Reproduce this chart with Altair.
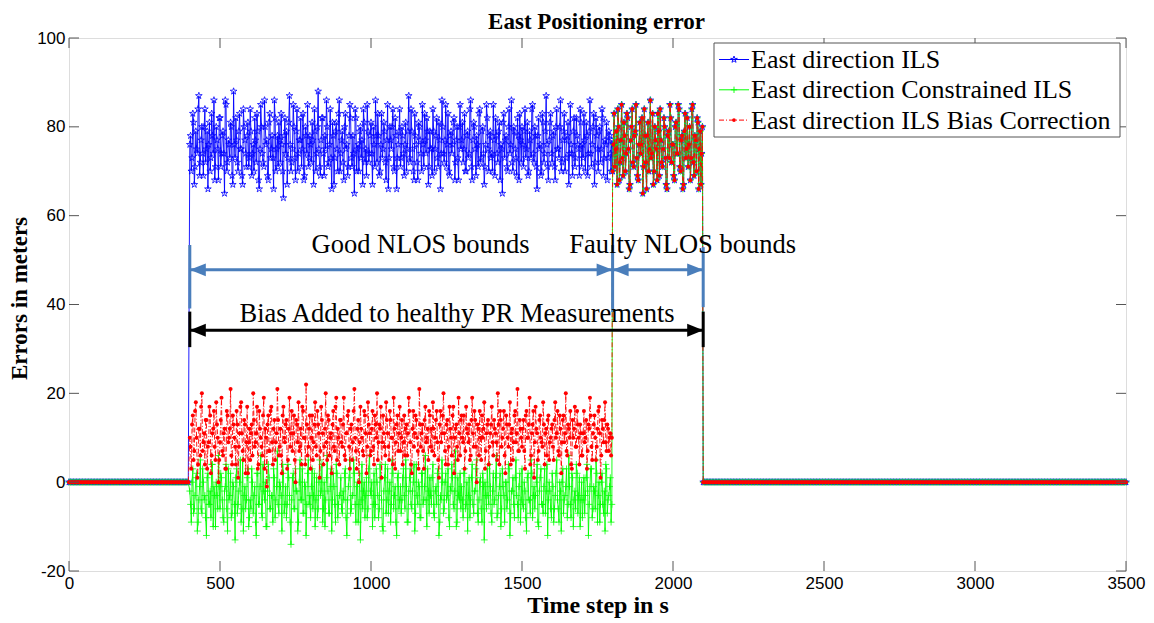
import altair as alt
import pandas as pd

# ---------------- data ----------------
T_BIAS_START = 400       # bias added from here
T_FAULT_START = 1800     # faulty NLOS bounds from here
T_BIAS_END = 2100        # bias removed here
T_END = 3500
STEP_FLAT = 5            # sampling used for the flat (healthy) parts
STEP_NOISY = 2.5         # sampling used for the biased interval

# East direction ILS, even samples t = 400, 405, ... 1795
ils_good_a = [
    76, 70, 83, 67, 79, 74, 87, 72, 80, 69, 84, 75, 66, 81, 73, 78, 86, 71, 77, 68,
    82, 74, 79, 65, 85, 72, 76, 81, 69, 88, 73, 77, 70, 83, 75, 67, 80, 74, 78, 71,
    84, 69, 76, 82, 72, 79, 66, 85, 74, 71, 80, 77, 68, 83, 75, 73, 86, 70, 78, 81,
    72, 76, 64, 82, 79, 73, 87, 70, 75, 80, 68, 84, 74, 77, 71, 83, 69, 78, 85, 73,
    76, 81, 67, 79, 74, 88, 71, 77, 82, 69, 75, 80, 72, 84, 66, 78, 73, 81, 70, 86,
    74, 79, 68, 83, 76, 71, 85, 73, 78, 65, 82, 75, 70, 80, 77, 84, 72, 69, 79, 74,
    81, 67, 76, 86, 72, 78, 70, 83, 75, 79, 68, 85, 73, 77, 80, 71, 82, 66, 76, 84,
    73, 78, 69, 81, 75, 87, 72, 79, 70, 83, 76, 68, 80, 74, 85, 71, 77, 82, 67, 79,
    75, 84, 70, 78, 73, 81, 66, 86, 74, 77, 71, 83, 69, 79, 76, 82, 72, 80, 68, 85,
    77, 72, 83, 70, 79, 74, 86, 68, 81, 75, 78, 71, 84, 73, 80, 67, 76, 82, 70, 79,
    74, 85, 69, 78, 72, 81, 76, 65, 83, 77, 71, 80, 74, 86, 70, 79, 73, 82, 68, 77,
    80, 71, 84, 75, 69, 79, 73, 85, 72, 78, 66, 82, 76, 70, 81, 74, 87, 71, 77, 83,
    72, 79, 68, 84, 75, 80, 70, 77, 83, 73, 78, 67, 85, 74, 79, 71, 82, 76, 69, 81,
    76, 83, 70, 78, 74, 86, 71, 80, 67, 82, 75, 79, 72, 84, 69, 77, 81, 73, 78, 70,
]
# East direction ILS, odd samples t = 402.5, 407.5, ... 1797.5
ils_good_b = [
    78, 73, 81, 71, 75, 84, 69, 77, 74, 80, 72, 79, 76, 70, 83, 74, 68, 80, 75, 82,
    71, 78, 74, 86, 70, 77, 73, 80, 67, 76, 82, 72, 79, 75, 69, 84, 77, 71, 81, 73,
    79, 74, 70, 77, 83, 68, 75, 80, 72, 86, 76, 69, 81, 73, 78, 66, 82, 75, 71, 77,
    83, 70, 78, 74, 67, 81, 76, 72, 85, 73, 79, 70, 77, 82, 75, 68, 80, 74, 71, 78,
    72, 77, 84, 70, 80, 75, 69, 82, 74, 78, 86, 71, 76, 73, 81, 67, 79, 75, 83, 70,
    77, 72, 80, 75, 69, 78, 82, 71, 74, 84, 70, 76, 79, 73, 67, 81, 75, 85, 72, 78,
    74, 80, 71, 78, 83, 69, 76, 73, 81, 72, 77, 66, 80, 75, 84, 70, 78, 73, 79, 71,
    80, 74, 76, 70, 79, 73, 84, 75, 68, 78, 72, 81, 77, 70, 76, 83, 74, 79, 71, 75,
    69, 79, 75, 82, 71, 77, 74, 80, 72, 85, 76, 70, 78, 74, 81, 68, 77, 73, 80, 75,
    81, 75, 70, 78, 73, 84, 71, 77, 80, 69, 76, 83, 72, 79, 74, 71, 85, 75, 78, 73,
    70, 77, 82, 74, 79, 68, 75, 81, 73, 78, 70, 84, 76, 72, 80, 75, 69, 78, 83, 72,
    76, 79, 73, 81, 70, 77, 84, 74, 80, 71, 78, 75, 69, 83, 72, 79, 76, 68, 81, 74,
    78, 71, 80, 75, 73, 86, 72, 79, 70, 77, 81, 74, 76, 69, 82, 73, 78, 75, 84, 71,
    73, 77, 81, 69, 79, 74, 76, 83, 72, 78, 70, 80, 75, 82, 73, 76, 68, 79, 74, 77,
]

# East direction Constrained ILS, even samples
cils_good_a = [
    -2, -9, 3, -6, 1, -11, -4, 5, -7, 0, -3, -12, 2, -5, -8, 4, -1, -10, -3, 6,
    -6, 1, -8, -2, 4, -11, -4, 2, -7, -1, -13, 3, -5, 0, -9, 5, -3, -6, 1, -10,
    -4, 3, -7, -1, -12, 2, -5, 6, -8, -2, 0, -10, 4, -6, -3, -9, 1, -4, 7, -7,
    -1, -11, 2, -5, -8, 4, -3, -14, 1, -6, 3, -2, -9, 5, -4, -7, 0, -12, 2, -5,
    -8, 3, -3, -10, 1, -6, 5, -2, -9, 0, -4, 6, -7, -1, -11, 2, -5, 4, -8, -3,
    1, -7, -4, 3, -12, -1, 5, -6, -3, 2, -9, 0, -5, -13, 4, -2, -8, 1, -6, 6,
    -3, -10, 2, -5, 0, -8, 4, -4, -11, 1, -7, 3, -2, -9, 5, -6, -1, -12, 2, -4,
    -7, 1, -3, 5, -9, -2, 3, -6, 0, -11, 4, -5, -1, -8, 2, -4, 6, -10, -2, 1,
    -5, 4, -8, -1, 2, -12, -3, 5, -7, 0, -4, 3, -10, -2, 1, -6, 7, -9, -3, 2,
    -1, -8, 3, -5, -11, 1, -4, 4, -7, -2, 5, -9, 0, -6, 2, -13, -3, 3, -5, -1,
    -9, 2, -4, 6, -7, -1, -10, 3, -3, 0, -6, 4, -12, -2, 1, -8, 5, -5, -1, -9,
    3, -6, -2, -11, 2, -4, 5, -8, -1, -3, 4, -10, 1, -5, -7, 3, -2, -12, 0, -6,
    2, -9, -3, 5, -6, 0, -11, 3, -4, -1, -8, 6, -5, 2, -10, -2, 4, -7, 1, -4,
    -8, 1, -3, 4, -12, -1, 3, -6, -2, 5, -9, 0, -5, 2, -7, -11, 3, -4, -1, -9,
]
# East direction Constrained ILS, odd samples
cils_good_b = [
    -5, 0, -7, -3, 2, -9, -1, -6, 3, -4, -8, 1, -5, -2, 4, -10, -3, 0, -6, -1,
    2, -4, -9, -1, -6, 3, -3, -8, 0, -5, 1, -7, -2, 5, -6, -11, -1, -4, 3, -8,
    -6, 0, -3, -9, 2, -5, -1, -7, 4, -4, -10, -2, 1, -6, -3, 3, -8, -1, -5, 0,
    -3, 4, -7, -1, -5, 1, -9, -4, 2, -6, -2, -11, 0, -4, 3, -7, -1, -5, 5, -3,
    -1, -6, 2, -4, -8, 0, -3, 4, -6, -10, 1, -2, -7, 3, -4, -1, -9, 2, -5, -3,
    -6, -2, 2, -8, -4, 1, -7, -3, 5, -5, -1, -9, 2, -4, -6, 0, -3, -8, 3, -2,
    0, -5, -8, 3, -3, -6, 1, -10, -2, 4, -4, -7, 0, -5, 2, -3, -9, 1, -6, -1,
    -4, 3, -6, -1, -9, 1, -5, -2, 4, -7, -3, 0, -8, 2, -5, -1, -4, 3, -7, -3,
    1, -7, -2, -5, 3, -9, -4, 0, -6, 2, -3, -8, -1, 4, -5, -2, -10, 1, -4, -6,
    -4, 2, -6, 0, -3, -8, 1, -5, -2, 3, -7, -4, 1, -9, -1, 0, -6, -3, 4, -7,
    -2, -5, 1, -8, -3, 2, -6, -1, -9, 0, -4, 3, -7, -2, -5, 1, -3, -8, 2, -4,
    -5, 0, -8, 1, -4, -7, 2, -3, -6, 0, -9, -2, 3, -5, -1, -7, 4, -4, -2, -8,
    -1, -6, 2, -4, -9, -2, 0, -7, -3, 3, -5, -1, -8, 1, -4, -6, 2, -3, -10, 0,
    -4, -7, 1, -2, -5, 3, -8, -1, -6, 2, -3, -9, 0, -5, -2, 4, -7, -3, 1, -5,
]

# East direction ILS Bias Correction, even samples
bc_good_a = [
    10, 3, 15, 7, 18, 1, 12, 6, 20, 9, 4, 14, 8, 17, 2, 11, 16, 5, 13, 0,
    9, 19, 6, 12, 3, 15, 10, 21, 4, 13, 8, 16, 1, 11, 18, 7, 14, 2, 17, 9,
    5, 13, 20, 8, 11, 3, 16, 10, 6, 19, 12, -1, 15, 7, 17, 4, 14, 9, 21, 6,
    12, 2, 17, 9, 14, 5, 19, 11, 7, 15, 0, 13, 18, 8, 4, 16, 10, 22, 6, 12,
    3, 15, 9, 18, 6, 13, 1, 17, 11, 8, 20, 5, 14, 10, 2, 16, 7, 19, 12, 4,
    14, 8, 19, 5, 11, 16, 3, 13, 9, 21, 7, 12, 0, 17, 10, 6, 15, 2, 18, 11,
    7, 16, 4, 13, 20, 9, 12, 1, 15, 8, 18, 11, 5, 14, 10, 19, 3, 13, 7, 17,
    10, 4, 15, 12, 6, 19, 9, 2, 16, 11, 14, 7, 21, 8, 13, 3, 17, 10, 5, 15,
    12, 18, 6, 14, 9, 1, 16, 11, 20, 7, 13, 4, 17, 10, 15, 2, 12, 8, 19, 6,
    15, 9, 3, 17, 11, 13, 6, 19, 8, 14, 0, 12, 16, 5, 10, 18, 7, 13, 4, 11,
    17, 6, 12, 9, 20, 4, 14, 10, 16, 2, 13, 8, 18, 11, 5, 15, 9, 21, 7, 12,
    8, 14, 3, 16, 10, 19, 6, 13, 1, 17, 11, 7, 15, 9, 18, 4, 12, 14, 5, 10,
    13, 5, 18, 11, 7, 15, 2, 14, 9, 20, 6, 12, 16, 3, 10, 17, 8, 13, 4, 11,
    6, 16, 10, 3, 13, 19, 8, 11, 15, 5, 12, 17, 1, 14, 9, 18, 7, 12, 10, 6,
]
# East direction ILS Bias Correction, odd samples
bc_good_b = [
    8, 13, 5, 16, 10, 4, 12, 17, 7, 11, 14, 3, 9, 15, 6, 12, 8, 18, 10, 5,
    14, 7, 11, 3, 16, 9, 12, 6, 15, 10, 4, 13, 8, 17, 11, 5, 13, 9, 2, 12,
    11, 6, 14, 9, 17, 4, 12, 8, 15, 3, 10, 13, 7, 16, 9, 12, 5, 11, 14, 8,
    6, 15, 10, 13, 3, 12, 8, 16, 11, 5, 14, 9, 7, 12, 17, 10, 4, 13, 8, 15,
    10, 5, 13, 8, 16, 11, 7, 14, 4, 12, 9, 15, 6, 11, 13, 8, 17, 5, 10, 14,
    9, 13, 6, 11, 15, 8, 12, 5, 16, 10, 3, 14, 9, 12, 7, 16, 11, 8, 13, 6,
    12, 8, 15, 10, 5, 13, 17, 9, 11, 6, 14, 8, 16, 10, 4, 12, 9, 15, 11, 7,
    14, 9, 6, 13, 11, 16, 4, 12, 8, 15, 10, 3, 13, 11, 7, 14, 9, 12, 16, 8,
    7, 12, 10, 16, 5, 13, 9, 15, 11, 4, 14, 8, 12, 6, 17, 10, 13, 5, 11, 14,
    10, 15, 7, 12, 9, 5, 14, 11, 16, 8, 13, 6, 10, 15, 12, 3, 11, 14, 8, 13,
    9, 14, 11, 5, 13, 16, 8, 12, 6, 15, 10, 13, 4, 12, 9, 16, 11, 7, 14, 10,
    12, 7, 15, 10, 13, 4, 11, 16, 9, 12, 5, 14, 10, 8, 13, 11, 6, 15, 9, 12,
    8, 14, 10, 16, 6, 12, 9, 15, 11, 7, 13, 10, 4, 14, 12, 8, 16, 10, 13, 6,
    11, 9, 14, 7, 12, 15, 5, 13, 10, 8, 16, 11, 6, 12, 14, 9, 13, 7, 11, 10,
]

# all three estimators coincide while the NLOS bounds are faulty (t = 1800 ... 2097.5)
fault_a = [
    70, 83, 75, 67, 80, 72, 85, 69, 78, 74, 82, 66, 77, 84, 71, 79, 73, 68, 81, 76,
    65, 84, 72, 78, 70, 86, 74, 67, 80, 75, 83, 69, 77, 71, 82, 73, 66, 79, 85, 72,
    76, 68, 81, 74, 84, 70, 78, 67, 83, 75, 71, 80, 73, 85, 69, 77, 82, 66, 79, 74,
]
fault_b = [
    76, 71, 79, 84, 68, 77, 73, 81, 70, 83, 75, 67, 80, 72, 78, 85, 69, 76, 74, 82,
    71, 78, 66, 81, 75, 73, 83, 70, 77, 68, 79, 84, 72, 75, 80, 67, 78, 73, 82, 76,
    69, 80, 74, 85, 71, 77, 66, 79, 73, 82, 76, 68, 84, 72, 78, 70, 81, 75, 67, 80,
]
healthy_level = 0   # error outside the biased interval

x_ticks = [0, 500, 1000, 1500, 2000, 2500, 3000, 3500]
y_ticks = [-20, 0, 20, 40, 60, 80, 100]

chart_title = "East Positioning error"
legend_labels = ["East direction ILS", "East direction Constrained ILS",
                 "East direction ILS Bias Correction"]

# annotation content (data coordinates)
ann_text_labels = ["Good NLOS bounds", "Faulty NLOS bounds",
                   "Bias Added to healthy PR Measurements"]
ann_text_t = [1164, 2032, 1285]
ann_text_v = [51.5, 51.5, 36.1]
bound_bar_t = [400, 1800, 2100]
bound_bar_top = [53.4, 53.4, 52.9]
bound_bar_bottom = [39.1, 38.3, 39.4]
bound_arrow_v = 47.8
bias_arrow_v = 34.2
bias_bar_top = 38.4
bias_bar_bottom = 30.4

# ---------------- tables ----------------
def frange(a, b, s):
    n = int(round((b - a) / s))
    return [a + k * s for k in range(n)]


def interleave(a, b):
    return [x for pair in zip(a, b) for x in pair]


t_pre = frange(0, T_BIAS_START, STEP_FLAT)
t_good = frange(T_BIAS_START, T_FAULT_START, STEP_NOISY)
t_fault = frange(T_FAULT_START, T_BIAS_END, STEP_NOISY)
t_post = frange(T_BIAS_END, T_END + STEP_FLAT, STEP_FLAT)
fault_all = interleave(fault_a, fault_b)


def series(a, b):
    t = t_pre + t_good + t_fault + t_post
    v = ([healthy_level] * len(t_pre) + interleave(a, b) + fault_all
         + [healthy_level] * len(t_post))
    return pd.DataFrame({"t": t, "v": v})


df_ils = series(ils_good_a, ils_good_b)
df_cils = series(cils_good_a, cils_good_b)
df_bc = series(bc_good_a, bc_good_b)

# ---------------- styling ----------------
SERIF = "Liberation Serif"
SANS = "Liberation Sans"
AXC = "#555555"
BLUE, GREEN, RED = "#0000FF", "#00FF00", "#FF0000"
STEEL = "#4A7EBB"
W, H = 1057, 533

STAR = ("M0,-1L0.2234,-0.3074L0.9511,-0.309L0.3614,0.1174L0.5878,0.809L0,0.38"
        "L-0.5878,0.809L-0.3614,0.1174L-0.9511,-0.309L-0.2234,-0.3074Z")
PLUS = "M-1,0L1,0M0,-1L0,1"
HEAD_L = "M0,0L2,-0.8L2,0.8Z"
HEAD_R = "M0,0L-2,-0.8L-2,0.8Z"

X = alt.X("t:Q", scale=alt.Scale(domain=[0, 3500], nice=False, zero=False),
          axis=alt.Axis(values=x_ticks, labelExpr="'' + datum.value",
                        labelFont=SANS, labelFontSize=17, labelColor="black",
                        labelPadding=4, labelFlush=False, labelOverlap=False,
                        ticks=False, domain=False, grid=False,
                        title="Time step in s", titleFont=SERIF, titleFontSize=24,
                        titleFontWeight="bold", titleColor="black",
                        titleBaseline="alphabetic", titleY=41))
Y = alt.Y("v:Q", scale=alt.Scale(domain=[-20, 100], nice=False, zero=False),
          axis=alt.Axis(values=y_ticks, labelExpr="'' + datum.value",
                        labelFont=SANS, labelFontSize=17, labelColor="black",
                        labelPadding=4, labelFlush=False, labelOverlap=False,
                        ticks=False, domain=False, grid=False,
                        title="Errors in meters", titleFont=SERIF, titleFontSize=23,
                        titleFontWeight="bold", titleColor="black",
                        titleAngle=270, titleAlign="center",
                        titleBaseline="alphabetic", titleX=-43, titleY=260))


def trace(df, color, shape, size, filled, width, dash=None):
    line_kw = dict(color=color, strokeWidth=width, opacity=1)
    if dash:
        line_kw["strokeDash"] = dash
    line = alt.Chart(df).mark_line(**line_kw).encode(x=X, y=Y)
    if filled:
        pts = alt.Chart(df).mark_point(shape=shape, size=size, filled=True,
                                       color=color, opacity=1).encode(x=X, y=Y)
    else:
        pts = alt.Chart(df).mark_point(shape=shape, size=size, filled=False,
                                       color=color, strokeWidth=0.8,
                                       opacity=1).encode(x=X, y=Y)
    return [line, pts]


layers = []
layers += trace(df_ils, BLUE, STAR, 49, False, 0.9)
layers += trace(df_cils, GREEN, PLUS, 46, False, 0.9)
layers += trace(df_bc, RED, "circle", 16, True, 0.9, dash=[5, 2, 1, 2])

# ---------------- annotations ----------------
bars = pd.DataFrame({"t": bound_bar_t, "v": bound_bar_top, "v2": bound_bar_bottom})
layers.append(alt.Chart(bars).mark_rule(color=STEEL, strokeWidth=3, strokeCap="butt")
              .encode(x=X, y=Y, y2="v2:Q"))
shafts = pd.DataFrame({"t": bound_bar_t[:2], "t2": bound_bar_t[1:],
                       "v": [bound_arrow_v, bound_arrow_v]})
layers.append(alt.Chart(shafts).mark_rule(color=STEEL, strokeWidth=3, strokeCap="butt")
              .encode(x=X, x2="t2:Q", y=Y))
heads_l = pd.DataFrame({"t": bound_bar_t[:2], "v": [bound_arrow_v] * 2})
heads_r = pd.DataFrame({"t": bound_bar_t[1:], "v": [bound_arrow_v] * 2})
layers.append(alt.Chart(heads_l).mark_point(shape=HEAD_L, size=256, filled=True,
                                            color=STEEL, opacity=1).encode(x=X, y=Y))
layers.append(alt.Chart(heads_r).mark_point(shape=HEAD_R, size=256, filled=True,
                                            color=STEEL, opacity=1).encode(x=X, y=Y))

bias_bars = pd.DataFrame({"t": [T_BIAS_START, T_BIAS_END],
                          "v": [bias_bar_top] * 2, "v2": [bias_bar_bottom] * 2})
layers.append(alt.Chart(bias_bars).mark_rule(color="black", strokeWidth=3, strokeCap="butt")
              .encode(x=X, y=Y, y2="v2:Q"))
bias_shaft = pd.DataFrame({"t": [T_BIAS_START], "t2": [T_BIAS_END], "v": [bias_arrow_v]})
layers.append(alt.Chart(bias_shaft).mark_rule(color="black", strokeWidth=3, strokeCap="butt")
              .encode(x=X, x2="t2:Q", y=Y))
layers.append(alt.Chart(pd.DataFrame({"t": [T_BIAS_START], "v": [bias_arrow_v]}))
              .mark_point(shape=HEAD_L, size=256, filled=True, color="black", opacity=1)
              .encode(x=X, y=Y))
layers.append(alt.Chart(pd.DataFrame({"t": [T_BIAS_END], "v": [bias_arrow_v]}))
              .mark_point(shape=HEAD_R, size=256, filled=True, color="black", opacity=1)
              .encode(x=X, y=Y))

texts = pd.DataFrame({"t": ann_text_t, "v": ann_text_v, "label": ann_text_labels})
layers.append(alt.Chart(texts).mark_text(font=SERIF, fontSize=26.5, color="black",
                                         align="center", baseline="alphabetic")
              .encode(x=X, y=Y, text="label:N"))

# ---------------- inward ticks (MATLAB style box) ----------------
xt = pd.DataFrame({"t": x_ticks})
yt = pd.DataFrame({"v": y_ticks})
for y0, y1 in [(H, H - 10), (0, 10)]:
    layers.append(alt.Chart(xt).mark_rule(color=AXC, strokeWidth=1)
                  .encode(x=X, y=alt.value(y0), y2=alt.value(y1)))
for x0, x1 in [(0, 10), (W, W - 10)]:
    layers.append(alt.Chart(yt).mark_rule(color=AXC, strokeWidth=1)
                  .encode(y=Y, x=alt.value(x0), x2=alt.value(x1)))

# ---------------- legend ----------------
one = pd.DataFrame({"k": [0]})
layers.append(alt.Chart(one).mark_rect(fill="white", stroke=AXC, strokeWidth=1)
              .encode(x=alt.value(645), x2=alt.value(1051),
                      y=alt.value(5), y2=alt.value(99)))
leg_style = [
    (BLUE, STAR, 49, False, None),
    (GREEN, PLUS, 40, False, None),
    (RED, "circle", 14, True, [5, 2, 1, 2]),
]
for i, (label, (col, shp, sz, fil, dash)) in enumerate(zip(legend_labels, leg_style)):
    yl = 21.5 + 30.3 * i
    rk = dict(color=col, strokeWidth=1)
    if dash:
        rk["strokeDash"] = dash
    layers.append(alt.Chart(one).mark_rule(**rk)
                  .encode(x=alt.value(650), x2=alt.value(680), y=alt.value(yl)))
    if fil:
        mk = alt.Chart(one).mark_point(shape=shp, size=sz, filled=True, color=col, opacity=1)
    else:
        mk = alt.Chart(one).mark_point(shape=shp, size=sz, filled=False, color=col,
                                       strokeWidth=0.9, opacity=1)
    layers.append(mk.encode(x=alt.value(665), y=alt.value(yl)))
    layers.append(alt.Chart(one).mark_text(font=SERIF, fontSize=26, color="black",
                                           align="left", baseline="alphabetic")
                  .encode(x=alt.value(682), y=alt.value(yl + 8.5), text=alt.value(label)))

# ---------------- title (drawn as text above the box) ----------------
layers.append(alt.Chart(one).mark_text(font=SERIF, fontSize=23, fontWeight="bold",
                                       color="black", align="center",
                                       baseline="alphabetic")
              .encode(x=alt.value(W / 2 - 1), y=alt.value(-9.3), text=alt.value(chart_title)))

chart = alt.layer(*layers).properties(
    width=W, height=H,
    autosize=alt.AutoSizeParams(type="none"),
    padding={"left": 61, "top": 30, "right": 20, "bottom": 49},
).configure_view(stroke=AXC, strokeWidth=1).configure(background="white")

chart.save("out.html", embed_options={"renderer": "svg", "actions": False})
